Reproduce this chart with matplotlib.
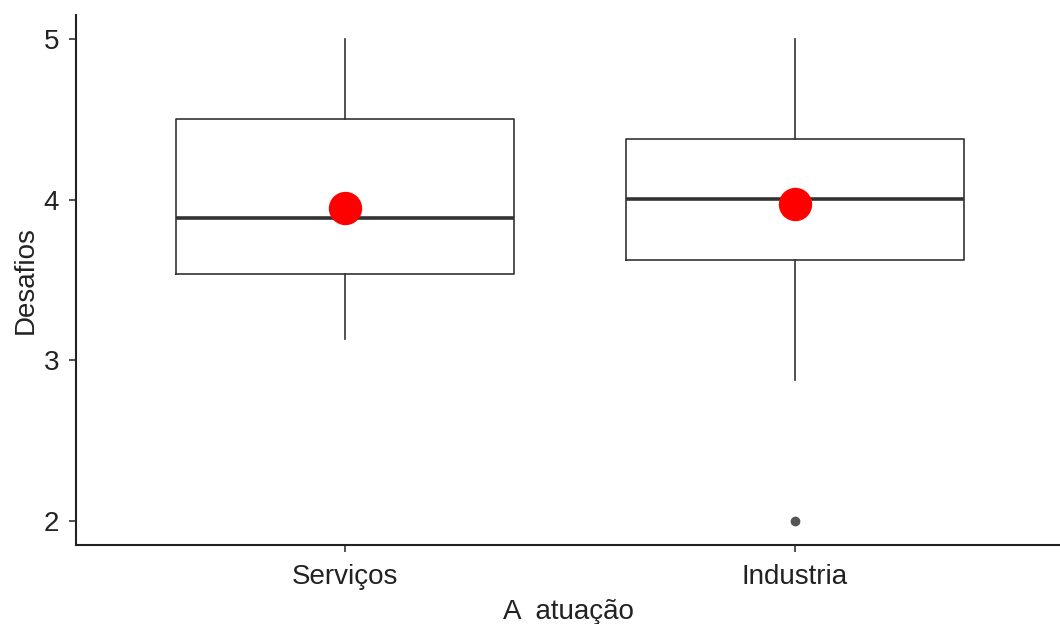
import matplotlib.pyplot as plt

plt.rcParams['font.family'] = ['Liberation Sans', 'DejaVu Sans']

# values
groups = ["Serviços", "Industria"]
q1 = [3.54, 3.625]
medians = [3.885, 4.005]
q3 = [4.50, 4.375]
whisker_low = [3.13, 2.88]
whisker_high = [5.0, 5.0]
outliers = [[], [2.0]]
means = [3.95, 3.975]

stats = []
for i, g in enumerate(groups):
    stats.append({
        "label": g,
        "q1": q1[i], "med": medians[i], "q3": q3[i],
        "whislo": whisker_low[i], "whishi": whisker_high[i],
        "fliers": outliers[i],
    })

fig = plt.figure(figsize=(10.6, 6.24), dpi=100)
ax = fig.add_axes([76 / 1060, 79 / 624, 984 / 1060, 530 / 624])

edge = "#333333"
positions = [1, 2]
ax.bxp(stats, positions=positions, widths=0.75, showcaps=False,
       boxprops=dict(color=edge, linewidth=1.2),
       whiskerprops=dict(color=edge, linewidth=1.2),
       medianprops=dict(color=edge, linewidth=2.6),
       flierprops=dict(marker="o", markersize=6, markerfacecolor="#555555",
                       markeredgecolor="#555555"))

ax.plot(positions, means, "o", color="red", markersize=23, zorder=5)

ax.set_xlim(0.402, 2.589)
ax.set_ylim(1.85, 5.15)
ax.set_yticks([2, 3, 4, 5])
ax.set_xticks(positions)
ax.set_xticklabels(groups)

for side in ["top", "right"]:
    ax.spines[side].set_visible(False)
for side in ["left", "bottom"]:
    ax.spines[side].set_color("#222222")
    ax.spines[side].set_linewidth(1.5)

ax.tick_params(axis="both", colors="#333333", length=5, width=1.2,
               labelsize=20, labelcolor="#222222")
ax.tick_params(axis="x", pad=9)
ax.tick_params(axis="y", pad=7)
ax.set_xlabel("A  atuação", fontsize=20, color="#222222", labelpad=6)
ax.set_ylabel("Desafios", fontsize=20, color="#222222", labelpad=4)

fig.savefig("out.png", dpi=100, facecolor="white")
